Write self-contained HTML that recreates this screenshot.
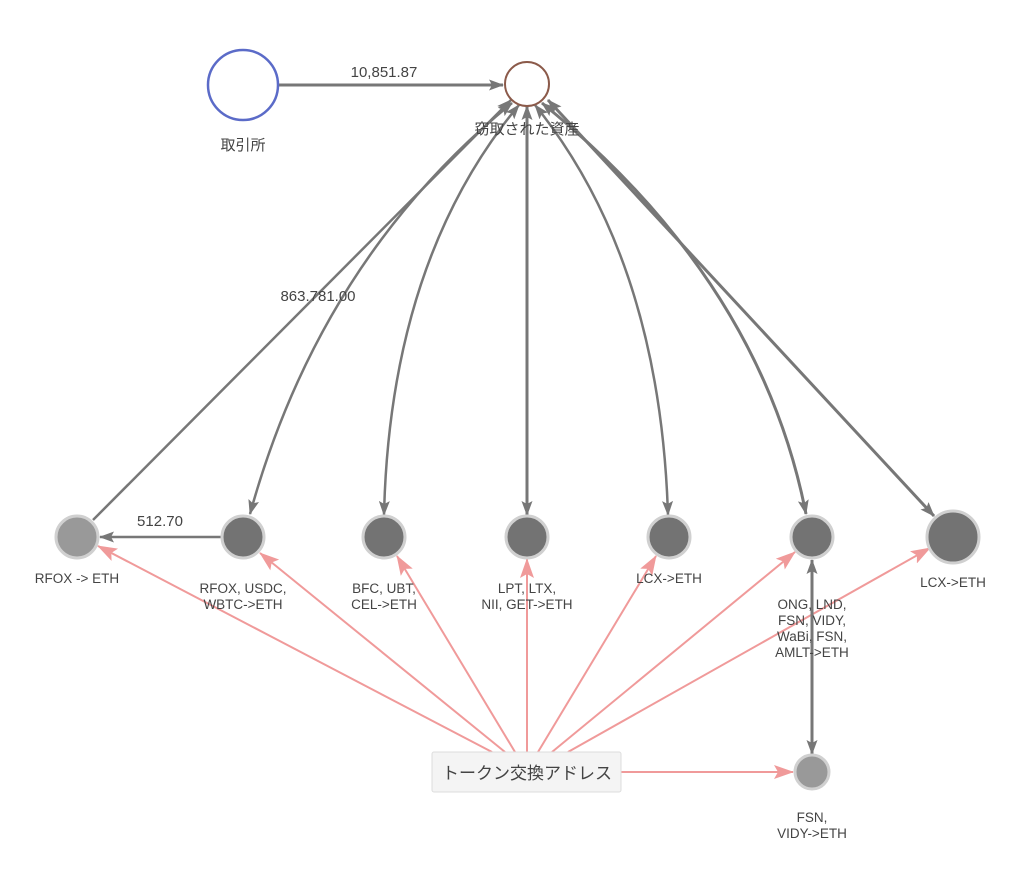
<!DOCTYPE html>
<html><head><meta charset="utf-8"><style>
body{margin:0;background:#fff;width:1024px;height:885px;overflow:hidden}
svg text{font-family:"Liberation Sans","Noto Sans CJK JP",sans-serif;fill:#444}
</style></head><body>
<svg width="1024" height="885" viewBox="0 0 1024 885" xmlns="http://www.w3.org/2000/svg">
<defs>
<marker id="g" markerWidth="15" markerHeight="11" refX="14" refY="5.5" orient="auto" markerUnits="userSpaceOnUse" viewBox="0 0 15 11"><path d="M0,0L15,5.5L0,11L3,5.5z" fill="#777"/></marker>
<marker id="gs" markerWidth="15" markerHeight="11" refX="1" refY="5.5" orient="auto" markerUnits="userSpaceOnUse" viewBox="0 0 15 11"><path d="M15,0L0,5.5L15,11L12,5.5z" fill="#777"/></marker>
<marker id="p" markerWidth="20" markerHeight="14" refX="19" refY="7" orient="auto" markerUnits="userSpaceOnUse" viewBox="0 0 20 14"><path d="M0,0L20,7L0,14L4,7z" fill="#f09a9a"/></marker>
</defs>
<g stroke="#f09a9a" stroke-width="2" fill="none" marker-end="url(#p)">
<line x1="492" y1="752" x2="98" y2="546"/>
<line x1="505" y1="752" x2="260" y2="553"/>
<line x1="515" y1="752" x2="397" y2="556"/>
<line x1="527" y1="752" x2="527" y2="559"/>
<line x1="538" y1="752" x2="656" y2="556"/>
<line x1="552" y1="752" x2="795" y2="552"/>
<line x1="568" y1="752" x2="930" y2="548"/>
<line x1="621" y1="772" x2="793" y2="772"/>
</g>
<g stroke="#777" fill="none" stroke-width="2.5">
<line x1="278" y1="85" x2="503" y2="85" marker-end="url(#g)" stroke-width="3"/>
<line x1="93" y1="520" x2="511" y2="100" marker-end="url(#g)"/>
<line x1="221" y1="537" x2="100" y2="537" marker-end="url(#g)"/>
<path d="M512,103 Q320,260 250,514" marker-start="url(#gs)" marker-end="url(#g)"/>
<path d="M519,105 Q390,260 384,515" marker-start="url(#gs)" marker-end="url(#g)"/>
<line x1="527" y1="106" x2="527" y2="515" marker-start="url(#gs)" marker-end="url(#g)" stroke-width="3"/>
<path d="M535,105 Q660,260 668,515" marker-start="url(#gs)" marker-end="url(#g)"/>
<path d="M542,103 Q760,280 806,514" marker-start="url(#gs)" marker-end="url(#g)" stroke-width="3"/>
<line x1="548" y1="100" x2="934" y2="516" marker-start="url(#gs)" marker-end="url(#g)" stroke-width="3"/>
<line x1="812" y1="560" x2="812" y2="754" marker-start="url(#gs)" marker-end="url(#g)" stroke-width="3"/>
</g>
<circle cx="243" cy="85" r="35" fill="#fff" stroke="#5b6bc8" stroke-width="2.5"/>
<circle cx="527" cy="84" r="22" fill="#fff" stroke="#8b5a4a" stroke-width="2"/>
<g stroke="#d0d0d0" stroke-width="3">
<circle cx="77" cy="537" r="21" fill="#999"/>
<circle cx="243" cy="537" r="21" fill="#737373"/>
<circle cx="384" cy="537" r="21" fill="#737373"/>
<circle cx="527" cy="537" r="21" fill="#737373"/>
<circle cx="669" cy="537" r="21" fill="#737373"/>
<circle cx="812" cy="537" r="21" fill="#737373"/>
<circle cx="953" cy="537" r="26" fill="#737373"/>
<circle cx="812" cy="772" r="17" fill="#999"/>
</g>
<rect x="432" y="752" width="189" height="40" rx="2" fill="#f4f4f4" stroke="#ddd"/>
<text x="527" y="779" font-size="17" text-anchor="middle">トークン交換アドレス</text>
<g font-size="15" text-anchor="middle">
<text x="384" y="77">10,851.87</text>
<text x="318" y="301">863.781.00</text>
<text x="160" y="526">512.70</text>
<text x="243" y="150">取引所</text>
<text x="527" y="134">窃取された資産</text>
</g>
<g font-size="13.5" text-anchor="middle">
<text x="77" y="583">RFOX -&gt; ETH</text>
<text x="243" y="593">RFOX, USDC,</text><text x="243" y="609">WBTC-&gt;ETH</text>
<text x="384" y="593">BFC, UBT,</text><text x="384" y="609">CEL-&gt;ETH</text>
<text x="527" y="593">LPT, LTX,</text><text x="527" y="609">NII, GET-&gt;ETH</text>
<text x="669" y="583">LCX-&gt;ETH</text>
<text x="953" y="587">LCX-&gt;ETH</text>
<text x="812" y="609">ONG, LND,</text><text x="812" y="625">FSN, VIDY,</text><text x="812" y="641">WaBi, FSN,</text><text x="812" y="657">AMLT-&gt;ETH</text>
<text x="812" y="822">FSN,</text><text x="812" y="838">VIDY-&gt;ETH</text>
</g>
</svg>
</body></html>
